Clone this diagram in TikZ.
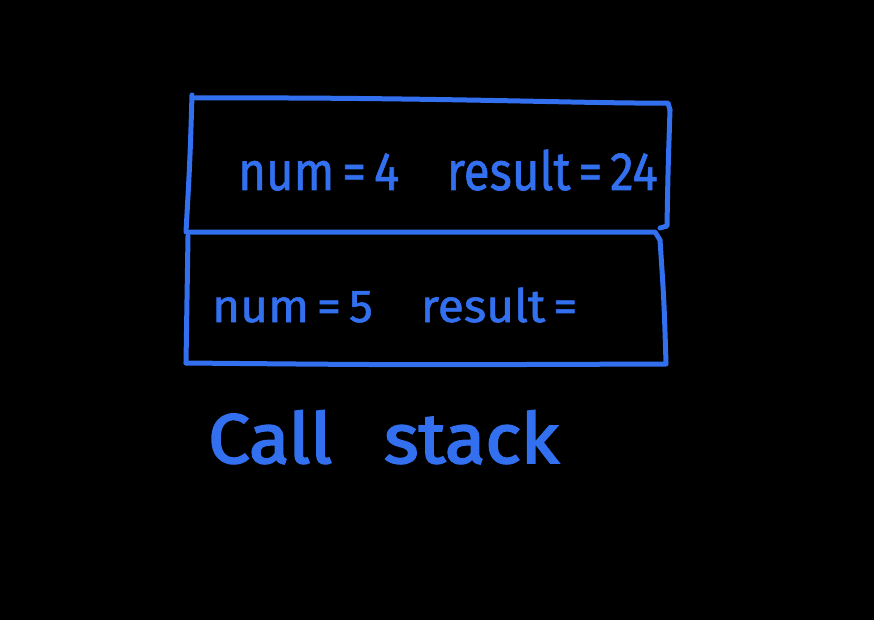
\documentclass[tikz,border=0pt]{standalone}
\usepackage{fontspec}
\setmainfont{Fira Sans}
\newfontfamily\handfont[FakeBold=1.2]{Fira Sans}
\newfontfamily\titlefont[FakeBold=2.6]{Fira Sans}
\definecolor{ink}{RGB}{50,112,240}
\begin{document}
\begin{tikzpicture}[x=1pt,y=-1pt,
  stroke/.style={draw=ink,line width=5pt,line cap=round,line join=round},
  hand/.style={text=ink,inner sep=0pt,anchor=base west,font=\handfont}]
\fill[black] (0,0) rectangle (874,620);
\useasboundingbox (0,0) rectangle (874,620);
% top box
\draw[stroke] (192,95) .. controls (190,160) .. (186,232);
\draw[stroke] (195,98) .. controls (430,97) and (600,104) .. (668,103) -- (670,110);
\draw[stroke] (670,110) .. controls (668,170) .. (667,226) -- (660,228);
% middle line
\draw[stroke] (190,232) -- (655,232) -- (660,240);
% bottom box
\draw[stroke] (188,236) .. controls (187,300) .. (186,363);
\draw[stroke] (660,240) .. controls (664,300) .. (666,363);
\draw[stroke] (186,363) .. controls (400,365) .. (666,364);
% texts
\node[hand] (t1) at (238,190) {\fontsize{54}{54}\selectfont\scalebox{0.88}[1]{num\,=\,4\hspace{1.0em}result\,=\,24}};
\node[hand] (t2) at (212,322) {\fontsize{46}{46}\selectfont\scalebox{1.04}[1]{num\,=\,5\hspace{1.0em}result\,=}};
\node[hand,font=\titlefont] (t3) at (208,463) {\fontsize{70}{70}\selectfont\scalebox{1.06}[1]{Call\hspace{0.7em}stack}};
\end{tikzpicture}
\end{document}
